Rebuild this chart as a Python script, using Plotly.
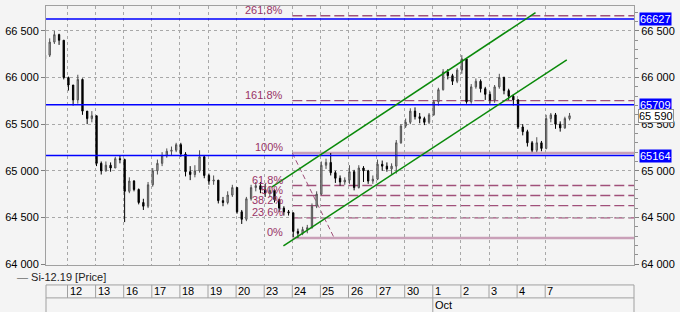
import plotly.graph_objects as go

# ---------------- data ----------------
day_labels = ["11", "12", "13", "16", "17", "18", "19", "20", "23", "24",
              "25", "26", "27", "30", "1", "2", "3", "4", "7"]
month_label = "Oct"
month_day_index = 14          # index of "1" (Oct 1) in day_labels
candles_per_day = 6

first_open = 66150
closes = [
    66200, 66240, 66380, 66460, 66400, 66000,   # 11
    65920, 65760, 65980, 65640, 65560, 65590,   # 12
    65080, 65000, 65060, 65030, 65130, 65120,   # 13
    64780, 64890, 64800, 64660, 64620, 64850,   # 16
    65000, 65080, 65160, 65210, 65220, 65280,   # 17
    65180, 64990, 64960, 65000, 65150, 64950,   # 18
    64890, 64900, 64680, 64660, 64740, 64820,   # 19
    64560, 64480, 64700, 64820, 64840, 64800,   # 20
    64760, 64790, 64690, 64600, 64560, 64550,   # 23
    64350, 64330, 64370, 64390, 64620, 64750,   # 24
    65060, 65090, 64980, 64920, 64880, 64900,   # 25
    64990, 64820, 65030, 65000, 64890, 64910,   # 26
    65070, 65050, 65020, 65050, 65300, 65480,   # 27
    65520, 65640, 65580, 65560, 65520, 65600,   # 30
    65740, 65870, 66060, 66020, 65960, 66080,   # 1
    66200, 65740, 65900, 65960, 65880, 65820,   # 2
    65760, 65900, 66000, 65860, 65800, 65760,   # 3
    65470, 65420, 65300, 65220, 65300, 65240,   # 4
    65560, 65600, 65500, 65460, 65560, 65590,   # 7
]
highs = [
    66260, 66280, 66420, 66500, 66470, 66400,
    66010, 65900, 66030, 65990, 65640, 65640,
    65590, 65100, 65100, 65090, 65150, 65160,
    65130, 64930, 64900, 64810, 64700, 64880,
    65030, 65120, 65200, 65240, 65260, 65300,
    65300, 65200, 65050, 65060, 65220, 65160,
    64970, 64950, 64900, 64720, 64780, 64850,
    64820, 64580, 64720, 64850, 64880, 64880,
    64860, 64830, 64800, 64700, 64620, 64580,
    64550, 64380, 64400, 64420, 64650, 64780,
    65100, 65130, 65190, 65000, 64950, 64930,
    65060, 65010, 65060, 65050, 65010, 64950,
    65120, 65110, 65090, 65080, 65330, 65500,
    65560, 65670, 65680, 65620, 65580, 65620,
    65760, 65890, 66090, 66090, 66040, 66100,
    66240, 66200, 65930, 65990, 65980, 65900,
    65850, 65920, 66040, 66010, 65880, 65820,
    65770, 65500, 65440, 65320, 65360, 65320,
    65600, 65620, 65620, 65530, 65580, 65620,
]
lows = [
    66150, 66180, 66220, 66360, 66350, 65980,
    65860, 65700, 65720, 65600, 65500, 65520,
    65050, 64960, 64990, 64990, 65030, 65080,
    64450, 64760, 64780, 64640, 64580, 64600,
    64830, 64960, 65050, 65140, 65170, 65200,
    65150, 64940, 64900, 64930, 64980, 64920,
    64850, 64850, 64650, 64620, 64640, 64720,
    64540, 64430, 64460, 64680, 64780, 64760,
    64720, 64720, 64660, 64560, 64520, 64520,
    64290, 64280, 64310, 64330, 64380, 64600,
    64740, 65020, 64950, 64870, 64840, 64850,
    64860, 64790, 64810, 64880, 64860, 64860,
    64900, 65000, 64990, 64960, 64970, 65290,
    65460, 65500, 65550, 65510, 65490, 65500,
    65590, 65700, 65860, 65980, 65920, 65940,
    66040, 65720, 65720, 65880, 65840, 65760,
    65720, 65730, 65880, 65820, 65760, 65700,
    65450, 65380, 65260, 65200, 65200, 65210,
    65230, 65520, 65450, 65420, 65450, 65540,
]

blue_levels = [66627, 65709, 65164]

fib_low = 64280
fib_high = 65190
fib_ratios = [0.0, 0.236, 0.382, 0.5, 0.618, 1.0, 1.618, 2.618]
fib_labels = ["0%", "23.6%", "38.2%", "50%", "61.8%", "100%", "161.8%", "261.8%"]
fib_start_day = 9.0
fib_diag_end_day = 10.49

channel_upper = [(8.267, 64826), (17.655, 66696)]
channel_lower = [(8.684, 64196), (18.768, 66190)]

x_range = [0.235, 21.16]
y_range = [63990, 66767]

# ---------------- derived ----------------
opens = [first_open] + closes[:-1]
highs_c = [max(h, o, c) for h, o, c in zip(highs, opens, closes)]
lows_c = [min(l, o, c) for l, o, c in zip(lows, opens, closes)]
xs = [d + (j + 0.2) / candles_per_day
      for d in range(len(day_labels)) for j in range(candles_per_day)]

FONT = "Arial, 'Liberation Sans', sans-serif"
GRID = "#a8a8a8"
BORDER = "#a0a0a0"
FIB = "#a0507a"
FIB_SOLID = "#c9a0b8"

fig = go.Figure()
fig.add_trace(go.Candlestick(
    x=xs, open=opens, high=highs_c, low=lows_c, close=closes,
    increasing=dict(line=dict(color="#505050", width=1), fillcolor="#b8b8b8"),
    decreasing=dict(line=dict(color="#000000", width=1), fillcolor="#000000"),
    whiskerwidth=0, showlegend=False, hoverinfo="skip",
))
fig.add_trace(go.Scatter(x=xs, y=closes, yaxis="y2", mode="lines",
                         line=dict(width=0), opacity=0, showlegend=False,
                         hoverinfo="skip"))

shapes = []
# fib lines
for r, lab in zip(fib_ratios, fib_labels):
    lvl = fib_low + r * (fib_high - fib_low)
    if r in (0.0, 1.0):
        line = dict(color=FIB_SOLID, width=2.5)
    else:
        line = dict(color=FIB, width=1.3, dash="10px,4px")
    shapes.append(dict(type="line", xref="x", yref="y", x0=fib_start_day,
                       x1=x_range[1], y0=lvl, y1=lvl, line=line, layer="below"))
shapes.append(dict(type="line", xref="x", yref="y", x0=fib_start_day, y0=fib_high,
                   x1=fib_diag_end_day, y1=fib_low,
                   line=dict(color=FIB, width=1, dash="5px,3px"), layer="below"))
# blue levels
for lvl in blue_levels:
    shapes.append(dict(type="line", xref="paper", yref="y", x0=0, x1=1,
                       y0=lvl, y1=lvl, line=dict(color="#0000ff", width=1.6),
                       layer="above"))
# green channel
for seg in (channel_upper, channel_lower):
    shapes.append(dict(type="line", xref="x", yref="y", x0=seg[0][0], y0=seg[0][1],
                       x1=seg[1][0], y1=seg[1][1],
                       line=dict(color="#0a8a0a", width=1.5), layer="above"))

# bottom date axis box
Y_TOP = -0.077
Y_MID = -0.127
Y_BOT = -0.19
box_line = dict(color=BORDER, width=1)
shapes.append(dict(type="line", xref="paper", yref="paper", x0=0, x1=1,
                   y0=Y_TOP, y1=Y_TOP, line=box_line))
shapes.append(dict(type="line", xref="paper", yref="paper", x0=0, x1=1,
                   y0=Y_MID, y1=Y_MID, line=box_line))
shapes.append(dict(type="line", xref="paper", yref="paper", x0=0, x1=0,
                   y0=Y_TOP, y1=Y_BOT, line=box_line))
shapes.append(dict(type="line", xref="paper", yref="paper", x0=1, x1=1,
                   y0=Y_TOP, y1=Y_BOT, line=box_line))
for k in range(1, len(day_labels)):
    y1 = Y_BOT if k == month_day_index else Y_MID
    shapes.append(dict(type="line", xref="x", yref="paper", x0=k, x1=k,
                       y0=Y_TOP, y1=y1, line=box_line))

annotations = []
for r, lab in zip(fib_ratios, fib_labels):
    lvl = fib_low + r * (fib_high - fib_low)
    annotations.append(dict(x=fib_start_day, y=lvl, xref="x", yref="y", text=lab,
                            showarrow=False, xanchor="right", yanchor="bottom",
                            xshift=-7, yshift=-2,
                            font=dict(family=FONT, size=11, color="#993366")))
for k, lab in enumerate(day_labels):
    if k == 0:
        continue
    annotations.append(dict(x=k, y=(Y_TOP + Y_MID) / 2, xref="x", yref="paper",
                            text=lab, showarrow=False, xanchor="left",
                            yanchor="middle", xshift=0,
                            font=dict(family=FONT, size=11, color="#000")))
annotations.append(dict(x=month_day_index, y=(Y_MID + Y_BOT) / 2 + 0.005,
                        xref="x", yref="paper", text=month_label, showarrow=False,
                        xanchor="left", yanchor="middle", xshift=0,
                        font=dict(family=FONT, size=11, color="#000")))
annotations.append(dict(x=-0.052, y=-0.047, xref="paper", yref="paper",
                        text="<span style='color:#707070'>—</span> Si-12.19 [Price]",
                        showarrow=False, xanchor="left", yanchor="middle",
                        font=dict(family=FONT, size=11, color="#222")))
for lvl in blue_levels:
    annotations.append(dict(x=1, y=lvl, xref="paper", yref="y", text=str(lvl),
                            showarrow=False, xanchor="left", yanchor="middle",
                            xshift=5, bgcolor="#0000ff", borderpad=0,
                            font=dict(family=FONT, size=11, color="#ffffff")))
last = closes[-1]
annotations.append(dict(x=1, y=last, xref="paper", yref="y",
                        text=f"{last // 1000} {last % 1000:03d}",
                        showarrow=False, xanchor="left", yanchor="middle",
                        xshift=4, bgcolor="#ffffff", bordercolor="#909090",
                        borderwidth=1, borderpad=0,
                        font=dict(family=FONT, size=11, color="#000")))

yax_common = dict(range=y_range, tickmode="linear", tick0=0, dtick=500,
                  tickformat=",", ticks="outside", ticklen=4, tickcolor="#808080",
                  zeroline=False, tickfont=dict(family=FONT, size=11, color="#000"))

fig.update_layout(
    width=680, height=312,
    margin=dict(l=40, r=38, t=5, b=47),
    paper_bgcolor="#f4f4f4", plot_bgcolor="#f4f4f4",
    separators=". ",
    showlegend=False,
    boxgap=0.6,
    xaxis=dict(range=x_range, tickmode="array", tickvals=list(range(1, len(day_labels))),
               showticklabels=False, ticks="", showgrid=True, gridcolor=GRID,
               griddash="dot", gridwidth=1, zeroline=False, showline=True,
               mirror=True, linecolor=BORDER, rangeslider=dict(visible=False)),
    yaxis=dict(**yax_common, showgrid=True, gridcolor=GRID, griddash="dot",
               showline=True, mirror=True, linecolor=BORDER),
    yaxis2=dict(**yax_common, overlaying="y", side="right", showgrid=False,
                showline=False,
                minor=dict(dtick=100, tick0=0, ticks="outside", ticklen=3,
                           tickcolor="#909090", showgrid=False)),
    shapes=shapes,
    annotations=annotations,
)

fig.write_html("out.html")
